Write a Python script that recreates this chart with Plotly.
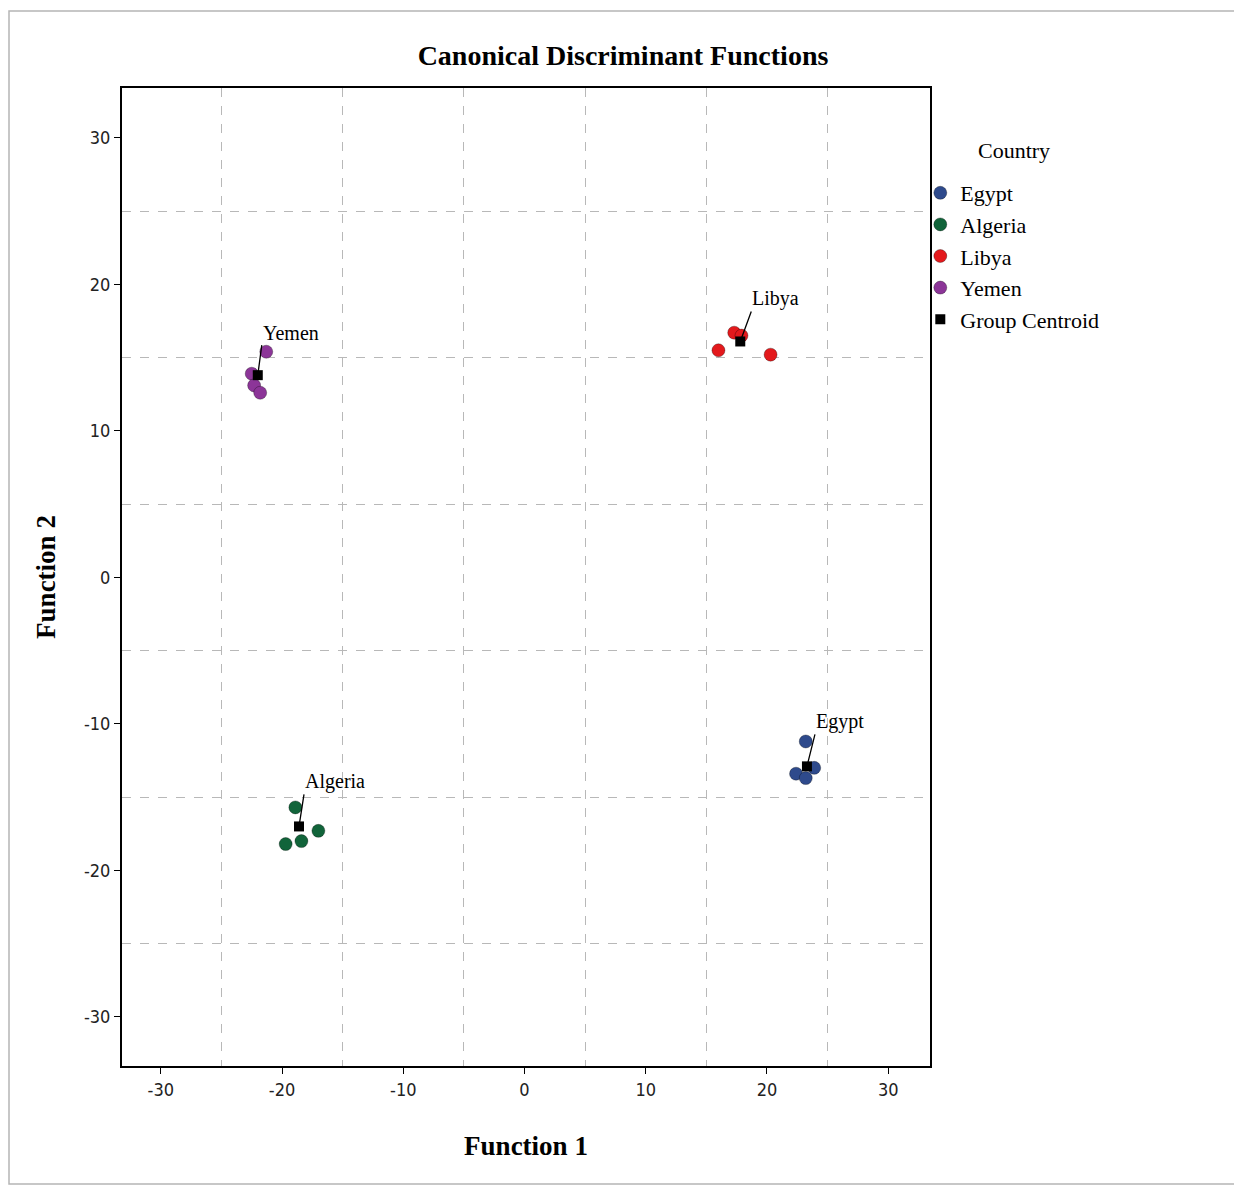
import plotly.graph_objects as go

# Data
groups = ["Egypt", "Algeria", "Libya", "Yemen"]
colors = {"Egypt": "#2e4a8c", "Algeria": "#11643a", "Libya": "#e3191c", "Yemen": "#8c3598"}
func1 = {
    "Egypt": [23.2, 22.4, 23.2, 23.9],
    "Algeria": [-18.9, -19.7, -18.4, -17.0],
    "Libya": [16.0, 17.3, 17.9, 20.3],
    "Yemen": [-21.3, -22.5, -22.3, -21.8],
}
func2 = {
    "Egypt": [-11.2, -13.4, -13.7, -13.0],
    "Algeria": [-15.7, -18.2, -18.0, -17.3],
    "Libya": [15.5, 16.7, 16.5, 15.2],
    "Yemen": [15.4, 13.9, 13.1, 12.6],
}
centroid_f1 = [23.3, -18.6, 17.8, -22.0]
centroid_f2 = [-12.9, -17.0, 16.1, 13.8]
tick_vals = [-30, -20, -10, 0, 10, 20, 30]
tick_text = ["-30", "-20", "-10", "0", "10", "20", "30"]

serif = "Liberation Serif"
sans = "DejaVu Sans Condensed"

W, H = 1226, 1178
L, R, T, B = 114, 304, 80, 120
PW, PH = W - L - R, H - T - B

fig = go.Figure()
for g in groups:
    fig.add_trace(go.Scatter(
        x=func1[g], y=func2[g], mode="markers", name=g,
        marker=dict(size=13, color=colors[g], line=dict(width=1, color="rgba(0,0,0,0.3)")),
    ))
fig.add_trace(go.Scatter(
    x=centroid_f1, y=centroid_f2, mode="markers", name="Group Centroid",
    marker=dict(size=10, color="black", symbol="square"),
))

offsets = {"Egypt": (8, -32), "Algeria": (5, -32), "Libya": (11, -30), "Yemen": (4, -30)}
for g, cx, cy in zip(groups, centroid_f1, centroid_f2):
    ax, ay = offsets[g]
    fig.add_annotation(
        x=cx, y=cy, text=g, showarrow=True, arrowhead=0, arrowwidth=1.3,
        arrowcolor="black", ax=ax, ay=ay, xanchor="left", yanchor="bottom",
        font=dict(family=serif, size=20, color="black"), borderpad=0,
    )

# legend title as separate text
fig.add_annotation(
    x=(976 - 8 - L) / PW, y=1 - (150 - 8 - T) / PH, xref="paper", yref="paper",
    text="Country", showarrow=False, xanchor="left", yanchor="middle",
    font=dict(family=serif, size=22, color="black"),
)

axis_common = dict(
    tickvals=tick_vals, ticktext=tick_text, ticks="outside", ticklen=6,
    tickcolor="black", tickwidth=1, showgrid=False, zeroline=False,
    showline=True, linecolor="black", linewidth=2, mirror=True,
    tickfont=dict(family=sans, size=18, color="#222"),
    minor=dict(tick0=-25, dtick=10, showgrid=True, gridcolor="#b8b8b8",
               griddash="dash", gridwidth=1, ticks=""),
)

fig.update_layout(
    width=W, height=H,
    paper_bgcolor="white", plot_bgcolor="white",
    margin=dict(l=L, r=R, t=T, b=B),
    title=dict(text="<b>Canonical Discriminant Functions</b>", x=(623 - 8) / W, xref="container",
               xanchor="center", y=1 - (55 - 8) / H, yanchor="middle",
               font=dict(family=serif, size=28, color="black")),
    xaxis=dict(range=[-33.2, 33.45],
               title=dict(text="<b>Function 1</b>", font=dict(family=serif, size=27, color="black"),
                          standoff=38),
               **axis_common),
    yaxis=dict(range=[-33.35, 33.4],
               title=dict(text="<b>Function 2</b>", font=dict(family=serif, size=27, color="black"),
                          standoff=20),
               **axis_common),
    legend=dict(x=0.988, y=1 - (172 - 8 - T) / PH, xanchor="left", yanchor="top",
                font=dict(family=serif, size=22, color="black"),
                itemwidth=30, tracegroupgap=0, bgcolor="rgba(0,0,0,0)"),
    showlegend=True,
)
fig.add_shape(type="rect", xref="paper", yref="paper",
              x0=-(L - 1) / PW, x1=(1237 - 8 - L) / PW,
              y0=-(B - 2) / PH, y1=1 + (T - 3) / PH,
              line=dict(color="#b5b5b5", width=1.5), layer="below")

fig.write_html("out.html")
